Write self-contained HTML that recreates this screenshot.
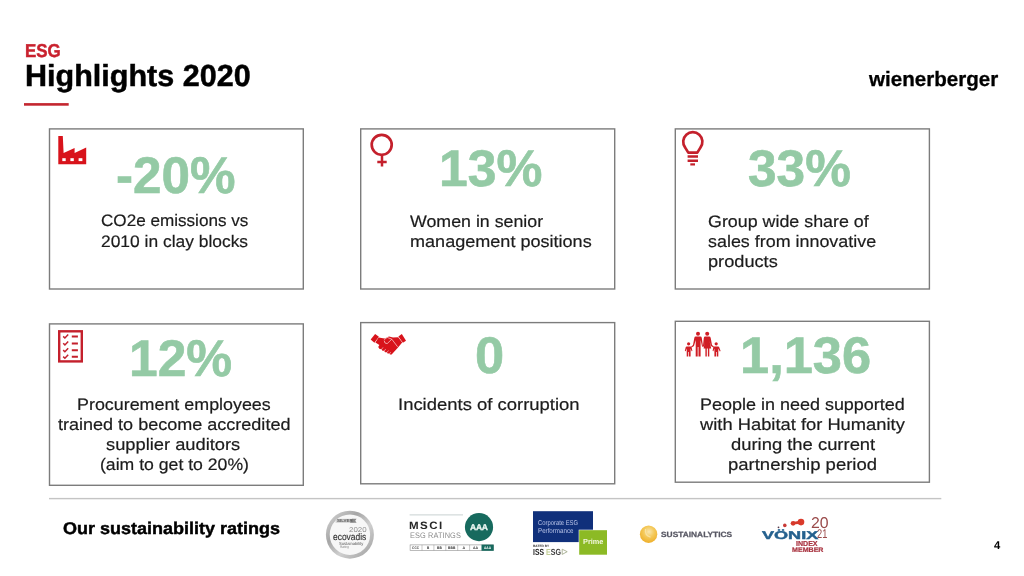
<!DOCTYPE html>
<html lang="en">
<head>
<meta charset="utf-8">
<title>ESG Highlights 2020</title>
<style>
html,body{margin:0;padding:0;}
body{width:1024px;height:576px;position:relative;overflow:hidden;background:#fff;font-family:"Liberation Sans",sans-serif;}
.t{position:absolute;white-space:nowrap;line-height:1;transform-origin:0 0;display:block;text-rendering:geometricPrecision;}
.abs{position:absolute;}
svg{position:absolute;overflow:visible;}
</style>
</head>
<body>
<svg width="1024" height="576" viewBox="0 0 1024 576" style="left:0;top:0">
<rect x="24" y="103.1" width="44.7" height="2.6" fill="#c4262f"/>
<g fill="#fff" stroke="#7c7c7c" stroke-width="1.4">
<rect x="49.50" y="128.90" width="253.80" height="160.10"/>
<rect x="360.70" y="128.90" width="254.00" height="160.10"/>
<rect x="675.30" y="128.90" width="254.10" height="160.10"/>
<rect x="49.50" y="323.90" width="253.80" height="161.40"/>
<rect x="360.70" y="322.60" width="254.00" height="161.20"/>
<rect x="675.30" y="321.30" width="254.10" height="160.90"/>
</g>
<rect x="49" y="497.9" width="892.3" height="1.4" fill="#c4c4c4"/>
</svg>
<svg width="1024" height="576" viewBox="0 0 1024 576" style="left:0;top:0">
<!-- factory -->
<g fill="#d8131b">
<path d="M58.3 164.2 L58.3 136.1 L62.8 136.1 L63.6 152.9 L74.6 147.9 L74.6 152.9 L86.2 147.6 L86.2 164.2 Z"/>
</g>
<g fill="#fff">
<rect x="62.3" y="158.2" width="3.4" height="2.9"/>
<rect x="70.4" y="158.2" width="3.4" height="2.9"/>
<rect x="78.6" y="158.2" width="3.8" height="2.9"/>
</g>
<!-- female -->
<g fill="none" stroke="#c4202c" stroke-width="2.7">
<circle cx="381.7" cy="144.8" r="10"/>
<path d="M382 155.5 V166.6 M377.3 162 H386.7" stroke-width="2.5"/>
</g>
<!-- bulb -->
<g fill="none" stroke="#c4202c" stroke-width="2.7" stroke-linejoin="round">
<path d="M688.3 152.6 L685.2 147.6 A9.6 9.6 0 1 1 700.4 147.6 L697.3 152.6 Z"/>
<path d="M687.6 156.6 H698 M687.6 160.8 H698" stroke-width="2.5"/>
<path d="M690.3 164.4 H695" stroke-width="2.2"/>
</g>
<!-- checklist -->
<g fill="none" stroke="#c4202c">
<rect x="59.2" y="331.3" width="22.6" height="30.1" stroke-width="2.4"/>
<path d="M71.8 336.6 H77.9 M71.8 343.5 H77.9 M71.8 350.3 H77.9 M71.8 356.8 H77.9" stroke-width="2"/>
<path d="M63.2 336.4 L64.9 338 L68.2 334.6 M63.2 343.3 L64.9 344.9 L68.2 341.5 M63.2 350.1 L64.9 351.7 L68.2 348.3 M63.2 356.6 L64.9 358.2 L68.2 354.8" stroke-width="1.5"/>
</g>
<!-- handshake -->
<g fill="#d8131b">
<path d="M375.1 333.9 L378.9 336.8 L374.4 342.8 L370.7 339.6 Z"/>
<path d="M401.8 333.9 L406 340.7 L402.9 342.8 L398.4 336.5 Z"/>
<path d="M378.6 337.6 L384.5 338.6 L389 336.6 L393 337.6 L398.2 337.2 L402.2 342.6 L397.6 348 L391.6 354.4 L390 354.6 L389.4 353.4 L387.6 353.6 L386.8 352.2 L385 352.2 L384.2 350.8 L382.4 350.8 L381.6 349.2 L379.6 349 L378.2 347 L379.4 345 L375.4 342.6 Z"/>
</g>
<g fill="none" stroke="#fff" stroke-width="0.7" opacity="0.85">
<path d="M384.2 339.6 L387.2 337.4 L391.8 339.2 L397.6 346.8"/>
<path d="M391.8 339.2 L387.2 343.6 L385 343 L384.2 340.6"/>
<path d="M381.6 349.4 L383 347.4 M384.3 351 L385.7 349 M387 352.5 L388.4 350.5 M389.5 353.9 L390.7 352.1" stroke-width="0.6"/>
</g>
<!-- family -->
<g fill="#d01d25">
<circle cx="698" cy="333.7" r="2"/>
<circle cx="707.2" cy="333.7" r="2"/>
<circle cx="688.6" cy="343.8" r="1.6"/>
<circle cx="716.2" cy="343.8" r="1.6"/>
<path d="M695.6 336.6 H700.4 Q701.6 336.6 701.8 338 L703 346.5 L702.1 346.8 L700.6 340 V356.6 H698.5 V347 H697.7 V356.6 H695.7 V340 L694 346 L691.6 347.6 L691 346.8 L693 345 L694.3 338 Q694.6 336.6 695.6 336.6 Z"/>
<path d="M705.2 336.6 H709.2 Q710.4 336.6 710.7 338 L712 345 L714 346.8 L713.4 347.6 L711 346 L709.6 341 L711.2 348.4 H709.3 V356.6 H707.9 V348.4 H706.8 V356.6 H705.4 V348.4 H703.6 L705 341 L703.8 346.8 L702.9 346.5 L703.8 338 Q704 336.6 705.2 336.6 Z"/>
<path d="M686.6 346.4 H690.6 Q691.4 346.4 691.6 347.2 L692.4 351 L691.6 351.2 L690.6 348.6 V356.6 H689 V352 H688.3 V356.6 H686.7 V348.6 L685.6 351.2 L684.8 351 L685.7 347.2 Q685.9 346.4 686.6 346.4 Z"/>
<path d="M714.2 346.4 H718.2 Q719 346.4 719.2 347.2 L720.6 351 L719.8 351.4 L718.3 348.6 V356.6 H716.7 V352 H716 V356.6 H714.4 V348.6 L713.4 351.2 L712.6 351 L713.3 347.2 Q713.5 346.4 714.2 346.4 Z"/>
</g>
</svg>
<svg width="1024" height="576" viewBox="0 0 1024 576" style="left:0;top:0">
<defs>
<linearGradient id="sil" x1="0" y1="0" x2="1" y2="1">
<stop offset="0" stop-color="#d9d9d9"/><stop offset="0.35" stop-color="#a6a6a6"/><stop offset="0.6" stop-color="#cfcfcf"/><stop offset="1" stop-color="#9b9b9b"/>
</linearGradient>
<radialGradient id="sun" cx="0.52" cy="0.36" r="0.62">
<stop offset="0" stop-color="#f9e6b0"/><stop offset="0.5" stop-color="#f4c95a"/><stop offset="1" stop-color="#efb12e"/>
</radialGradient>
</defs>
<!-- ecovadis medal -->
<circle cx="349.9" cy="534.7" r="24" fill="url(#sil)"/>
<circle cx="349.9" cy="534.7" r="20.2" fill="#f7f7f7"/>
<rect x="335.6" y="518.8" width="18" height="4" fill="#d2d2d2"/>
<path d="M352 518.8 H356.6 L355.2 520.8 L356.6 522.8 H350 Z" fill="#8a8a8a"/>
<!-- MSCI -->
<rect x="409.6" y="514.4" width="53.4" height="1" fill="#c9d1d1"/>
<circle cx="479" cy="527.1" r="14.1" fill="#176a5e"/>
<rect x="410.1" y="544.9" width="83.4" height="5.6" fill="#fff" stroke="#8e8e8e" stroke-width="0.6"/>
<path d="M422 544.9 V550.5 M433.9 544.9 V550.5 M445.8 544.9 V550.5 M457.7 544.9 V550.5 M469.6 544.9 V550.5" stroke="#8e8e8e" stroke-width="0.5"/>
<rect x="481.5" y="544.6" width="12.2" height="6.2" fill="#176a5e"/>
<!-- ISS -->
<rect x="533" y="511.2" width="60" height="30.9" fill="#10307b"/>
<rect x="578.7" y="529.7" width="28.8" height="25.5" fill="#fff"/>
<rect x="579.2" y="530.2" width="27.8" height="24.5" fill="#8cba25"/>
<path d="M562.2 549.2 L567.2 551.7 L562.2 554.4 Z" fill="none" stroke="#9aa383" stroke-width="0.8"/>
<!-- sustainalytics -->
<circle cx="648.6" cy="534.2" r="8.7" fill="url(#sun)"/>
<path d="M645.5 529 Q644.6 535.5 650.5 537.2" fill="none" stroke="#f9e3a6" stroke-width="1.2" opacity="0.9"/>
<!-- vonix dots -->
<circle cx="778.5" cy="527.3" r="0.9" fill="#5a3a4a"/>
<circle cx="784.8" cy="525.4" r="1.8" fill="#c93a36"/>
<circle cx="793.1" cy="523.3" r="2.4" fill="#d6392b"/>
<circle cx="801" cy="522.1" r="3.3" fill="#db3a2a"/>
<path d="M793 522 L801 520.6 L801 523.8 L793 524.6 Z" fill="#d6392b"/>
</svg>
<span class="t" style="left:24.74px;top:42.00px;font-size:18.68px;font-weight:700;color:#c9212e;-webkit-text-stroke:0.45px #c9212e;transform:scaleX(0.9074)">ESG</span>
<span class="t" style="left:25.24px;top:61.00px;font-size:30.41px;font-weight:700;color:#000;-webkit-text-stroke:0.5px #000;transform:scaleX(1.0043)">Highlights 2020</span>
<span class="t" style="left:869.22px;top:70.00px;font-size:20.70px;font-weight:700;color:#000;-webkit-text-stroke:0.3px #000;transform:scaleX(0.9948)">wienerberger</span>
<span class="t" style="left:116.20px;top:150.00px;font-size:51.60px;font-weight:700;color:#94caa5;-webkit-text-stroke:0.6px #94caa5;transform:scaleX(0.9923)">-20%</span>
<span class="t" style="left:438.77px;top:143.00px;font-size:51.60px;font-weight:700;color:#94caa5;-webkit-text-stroke:0.6px #94caa5;transform:scaleX(1.0008)">13%</span>
<span class="t" style="left:747.60px;top:143.00px;font-size:51.60px;font-weight:700;color:#94caa5;-webkit-text-stroke:0.6px #94caa5;transform:scaleX(0.9957)">33%</span>
<span class="t" style="left:129.48px;top:333.00px;font-size:51.60px;font-weight:700;color:#94caa5;-webkit-text-stroke:0.6px #94caa5;transform:scaleX(0.9988)">12%</span>
<span class="t" style="left:475.17px;top:330.00px;font-size:51.60px;font-weight:700;color:#94caa5;-webkit-text-stroke:0.6px #94caa5;transform:scaleX(1.0159)">0</span>
<span class="t" style="left:739.83px;top:330.00px;font-size:51.60px;font-weight:700;color:#94caa5;-webkit-text-stroke:0.6px #94caa5;transform:scaleX(1.0158)">1,136</span>
<span class="t" style="left:100.60px;top:213.00px;font-size:16.61px;font-weight:400;color:#1c1c1c;-webkit-text-stroke:0.2px #1c1c1c;transform:scaleX(1.0299)">CO2e emissions vs</span>
<span class="t" style="left:100.89px;top:234.00px;font-size:16.61px;font-weight:400;color:#1c1c1c;-webkit-text-stroke:0.2px #1c1c1c;transform:scaleX(1.0480)">2010 in clay blocks</span>
<span class="t" style="left:410.11px;top:214.00px;font-size:16.61px;font-weight:400;color:#1c1c1c;-webkit-text-stroke:0.2px #1c1c1c;transform:scaleX(1.0705)">Women in senior</span>
<span class="t" style="left:409.78px;top:234.00px;font-size:16.61px;font-weight:400;color:#1c1c1c;-webkit-text-stroke:0.2px #1c1c1c;transform:scaleX(1.0872)">management positions</span>
<span class="t" style="left:707.77px;top:214.00px;font-size:16.61px;font-weight:400;color:#1c1c1c;-webkit-text-stroke:0.2px #1c1c1c;transform:scaleX(1.0743)">Group wide share of</span>
<span class="t" style="left:707.93px;top:234.00px;font-size:16.61px;font-weight:400;color:#1c1c1c;-webkit-text-stroke:0.2px #1c1c1c;transform:scaleX(1.0775)">sales from innovative</span>
<span class="t" style="left:707.82px;top:254.00px;font-size:16.61px;font-weight:400;color:#1c1c1c;-webkit-text-stroke:0.2px #1c1c1c;transform:scaleX(1.0948)">products</span>
<span class="t" style="left:76.81px;top:397.00px;font-size:16.61px;font-weight:400;color:#1c1c1c;-webkit-text-stroke:0.2px #1c1c1c;transform:scaleX(1.0763)">Procurement employees</span>
<span class="t" style="left:57.91px;top:417.00px;font-size:16.61px;font-weight:400;color:#1c1c1c;-webkit-text-stroke:0.2px #1c1c1c;transform:scaleX(1.0851)">trained to become accredited</span>
<span class="t" style="left:106.42px;top:437.00px;font-size:16.61px;font-weight:400;color:#1c1c1c;-webkit-text-stroke:0.2px #1c1c1c;transform:scaleX(1.1016)">supplier auditors</span>
<span class="t" style="left:99.58px;top:457.00px;font-size:16.61px;font-weight:400;color:#1c1c1c;-webkit-text-stroke:0.2px #1c1c1c;transform:scaleX(1.0615)">(aim to get to 20%)</span>
<span class="t" style="left:398.47px;top:397.00px;font-size:16.61px;font-weight:400;color:#1c1c1c;-webkit-text-stroke:0.2px #1c1c1c;transform:scaleX(1.1111)">Incidents of corruption</span>
<span class="t" style="left:700.20px;top:397.00px;font-size:16.61px;font-weight:400;color:#1c1c1c;-webkit-text-stroke:0.2px #1c1c1c;transform:scaleX(1.0819)">People in need supported</span>
<span class="t" style="left:700.30px;top:417.00px;font-size:16.61px;font-weight:400;color:#1c1c1c;-webkit-text-stroke:0.2px #1c1c1c;transform:scaleX(1.1039)">with Habitat for Humanity</span>
<span class="t" style="left:730.74px;top:437.00px;font-size:16.61px;font-weight:400;color:#1c1c1c;-webkit-text-stroke:0.2px #1c1c1c;transform:scaleX(1.1077)">during the current</span>
<span class="t" style="left:728.26px;top:457.00px;font-size:16.61px;font-weight:400;color:#1c1c1c;-webkit-text-stroke:0.2px #1c1c1c;transform:scaleX(1.1128)">partnership period</span>
<span class="t" style="left:63.43px;top:521.00px;font-size:16.92px;font-weight:700;color:#000;-webkit-text-stroke:0.45px #000;transform:scaleX(1.0640)">Our sustainability ratings</span>
<span class="t" style="left:993.78px;top:541.00px;font-size:11.40px;font-weight:700;color:#000;transform:scaleX(0.9859)">4</span>
<span class="t" style="left:336.87px;top:519.00px;font-size:4.40px;font-weight:700;color:#5a5a5a;transform:scaleX(1.0074)">SILVER</span>
<span class="t" style="left:349.05px;top:527.00px;font-size:7.00px;font-weight:400;color:#8f8f8f;transform:scaleX(1.1273)">2020</span>
<span class="t" style="left:332.74px;top:533.00px;font-size:9.60px;font-weight:400;color:#333;-webkit-text-stroke:0.15px #333;transform:scaleX(0.8806)">ecovadis</span>
<span class="t" style="left:338.72px;top:542.00px;font-size:4.30px;font-weight:400;color:#555;transform:scaleX(0.9569)">Sustainability</span>
<span class="t" style="left:339.98px;top:546.00px;font-size:3.60px;font-weight:400;color:#888;transform:scaleX(0.8630)">Rating</span>
<span class="t" style="left:409.36px;top:521.00px;font-size:10.70px;font-weight:700;color:#262626;letter-spacing:1.379px;transform:scaleX(1.0800)">MSCI</span>
<span class="t" style="left:409.53px;top:532.00px;font-size:8.00px;font-weight:400;color:#8c8c8c;letter-spacing:0.112px;transform:scaleX(0.9200)">ESG RATINGS</span>
<span class="t" style="left:469.96px;top:523.00px;font-size:8.50px;font-weight:700;color:#eef8f4;letter-spacing:-0.213px;-webkit-text-stroke:0.3px #eef8f4;transform:scaleX(1.0000)">AAA</span>
<span class="t" style="left:412.39px;top:547.00px;font-size:3.60px;font-weight:700;color:#333;transform:scaleX(0.9166)">CCC</span>
<span class="t" style="left:426.83px;top:547.00px;font-size:3.60px;font-weight:700;color:#333;transform:scaleX(0.8889)">B</span>
<span class="t" style="left:437.33px;top:547.00px;font-size:3.60px;font-weight:700;color:#333;transform:scaleX(0.9279)">BB</span>
<span class="t" style="left:447.82px;top:547.00px;font-size:3.60px;font-weight:700;color:#333;transform:scaleX(0.9397)">BBB</span>
<span class="t" style="left:462.44px;top:547.00px;font-size:3.60px;font-weight:700;color:#333;transform:scaleX(1.0000)">A</span>
<span class="t" style="left:472.94px;top:547.00px;font-size:3.60px;font-weight:700;color:#333;transform:scaleX(0.9805)">AA</span>
<span class="t" style="left:483.94px;top:547.00px;font-size:3.60px;font-weight:700;color:#fff;transform:scaleX(0.9092)">AAA</span>
<span class="t" style="left:537.94px;top:520.00px;font-size:7.00px;font-weight:400;color:#b9c4e8;transform:scaleX(0.8355)">Corporate ESG</span>
<span class="t" style="left:537.70px;top:528.00px;font-size:7.00px;font-weight:400;color:#b9c4e8;transform:scaleX(0.8843)">Performance</span>
<span class="t" style="left:582.77px;top:538.00px;font-size:7.40px;font-weight:700;color:#f2f7dd;transform:scaleX(0.9906)">Prime</span>
<span class="t" style="left:533.11px;top:545.00px;font-size:3.20px;font-weight:700;color:#333;transform:scaleX(1.0114)">RATED BY</span>
<span class="t" style="left:533.06px;top:548.00px;font-size:8.80px;font-weight:700;color:#1c1c1c;transform:scaleX(0.7736)">ISS</span>
<span class="t" style="left:545.65px;top:548.00px;font-size:8.80px;font-weight:700;color:#3c3c3c;transform:scaleX(0.8062)"><span style="color:#c3cf96">E</span>SG</span>
<span class="t" style="left:660.63px;top:531.00px;font-size:7.60px;font-weight:700;color:#585864;-webkit-text-stroke:0.25px #585864;transform:scaleX(1.1023)">SUSTAINALYTICS</span>
<span class="t" style="left:762.47px;top:531.00px;font-size:11.30px;font-weight:700;color:#24608e;-webkit-text-stroke:0.4px #24608e;transform:scaleX(1.6002)">VÖNIX</span>
<span class="t" style="left:810.64px;top:516.00px;font-size:15.60px;font-weight:400;color:#9a4a4a;transform:scaleX(1.0155)">20</span>
<span class="t" style="left:817.34px;top:528.00px;font-size:12.60px;font-weight:400;color:#9a4a4a;transform:scaleX(0.7371)">21</span>
<span class="t" style="left:796.47px;top:540.00px;font-size:7.20px;font-weight:700;color:#a8323f;-webkit-text-stroke:0.2px #a8323f;transform:scaleX(0.9810)">INDEX</span>
<span class="t" style="left:792.34px;top:548.00px;font-size:6.70px;font-weight:700;color:#a8323f;-webkit-text-stroke:0.2px #a8323f;transform:scaleX(1.0595)">MEMBER</span></body></html>
